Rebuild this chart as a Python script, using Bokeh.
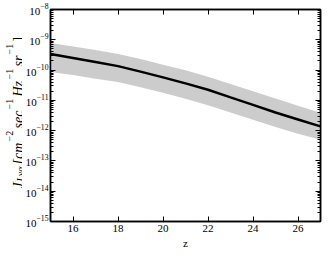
import math
from bokeh.plotting import figure
from bokeh.layouts import row
from bokeh.models import (FixedTicker, LogAxis, LinearAxis, Title,
                          CustomJSTickFormatter, ColumnDataSource)
from bokeh.core.properties import value
from bokeh.embed import file_html
from bokeh.resources import INLINE

# ---- data ----
z = [15, 16, 17, 18, 19, 20, 21, 22, 23, 24, 25, 26, 27]
j_mid = [3.39e-10, 2.51e-10, 1.86e-10, 1.35e-10, 8.9e-11, 5.75e-11, 3.63e-11,
         2.24e-11, 1.26e-11, 7.1e-12, 3.98e-12, 2.34e-12, 1.38e-12]
j_upper = [7.9e-10, 6.0e-10, 4.6e-10, 3.4e-10, 2.3e-10, 1.5e-10, 9.8e-11,
           6.0e-11, 3.5e-11, 2.0e-11, 1.15e-11, 6.6e-12, 3.9e-12]
j_lower = [8.7e-11, 6.9e-11, 5.2e-11, 4.0e-11, 2.7e-11, 1.78e-11, 1.12e-11,
           6.9e-12, 4.0e-12, 2.3e-12, 1.32e-12, 7.9e-13, 5.0e-13]

x_ticks = [16, 18, 20, 22, 24, 26]
y_ticks = [1e-15, 1e-14, 1e-13, 1e-12, 1e-11, 1e-10, 1e-9, 1e-8]
y_minor = [m * t for t in y_ticks[:-1] for m in (2, 3, 4, 5, 6, 7, 8, 9)]

# y-axis label pieces (rotated text)
lab_text = ["J", "Lyα", "[cm", "−2", "sec", "−1", "Hz", "−1", "sr", "−1", "]"]
lab_style = ["italic", "italic", "italic", "normal", "italic", "normal",
             "italic", "normal", "italic", "normal", "normal"]
lab_size = ["14px", "10px", "14px", "10px", "14px", "10px", "14px", "10px",
            "14px", "10px", "14px"]
# positions inside the label strip: baseline x, start y (pixels, from bottom)
lab_x = [17.5, 19.5, 17.5, 9, 17.5, 9, 17.5, 9, 17.5, 9, 17.5]
lab_y = [60, 67, 84, 107, 120, 139, 152, 169, 182, 194, 207]

src = ColumnDataSource(dict(z=z, mid=j_mid, up=j_upper, lo=j_lower))

FONT = "Liberation Serif"
H = 248
LW = 22

# ---- label strip ----
lab = figure(width=LW, height=H, x_range=(0, LW), y_range=(0, H),
             output_backend="svg", toolbar_location=None,
             x_axis_location=None, y_axis_location=None,
             min_border=0, outline_line_color=None)
lab.frame_align = False
lab.xgrid.visible = False
lab.ygrid.visible = False
for t, s, fs, xx, yy in zip(lab_text, lab_style, lab_size, lab_x, lab_y):
    lab.text(x=[xx], y=[yy], text=[t], angle=math.pi / 2,
             text_align="left", text_baseline="alphabetic",
             text_font=value(FONT), text_font_style=s,
             text_font_size=fs, text_color="black")

# ---- main plot ----
p = figure(width=324 - LW, height=H, x_range=(15, 27), y_range=(1e-15, 1e-8),
           y_axis_type="log", output_backend="svg", toolbar_location=None,
           min_border_left=48 - LW, min_border_right=4, min_border_top=9,
           min_border_bottom=20)
p.frame_align = False
p.background_fill_color = "white"
p.border_fill_color = "white"
p.outline_line_color = "black"
p.outline_line_width = 1.5
p.xgrid.visible = False
p.ygrid.visible = False

p.varea(x="z", y1="lo", y2="up", source=src, fill_color="#cccccc")
p.line(x="z", y="mid", source=src, line_color="black", line_width=2.5)


def style_axis(ax, labels=True):
    ax.axis_line_color = "black"
    ax.axis_line_width = 1.5
    ax.major_tick_in = 5
    ax.major_tick_out = 0
    ax.minor_tick_in = 3
    ax.minor_tick_out = 0
    ax.major_tick_line_color = "black"
    ax.minor_tick_line_color = "black"
    ax.major_tick_line_width = 1
    ax.minor_tick_line_width = 1
    ax.major_label_text_font = FONT
    ax.major_label_text_font_size = "11px"
    ax.major_label_text_color = "black"
    ax.major_label_standoff = 3
    if not labels:
        ax.formatter = CustomJSTickFormatter(code="return ''")


xb = p.xaxis[0]
xb.ticker = FixedTicker(ticks=x_ticks, minor_ticks=[])
style_axis(xb)
xb.axis_label = None

p.add_layout(Title(text="z", align="center", text_font=FONT,
                   text_font_size="11px", text_font_style="normal",
                   text_color="black", standoff=0), "below")

yl = p.yaxis[0]
yl.ticker = FixedTicker(ticks=y_ticks, minor_ticks=y_minor)
style_axis(yl)
yl.major_label_standoff = 2
yl.axis_label = None

xt = LinearAxis(ticker=FixedTicker(ticks=x_ticks, minor_ticks=[]))
style_axis(xt, labels=False)
p.add_layout(xt, "above")

yr = LogAxis(ticker=FixedTicker(ticks=y_ticks, minor_ticks=y_minor))
style_axis(yr, labels=False)
p.add_layout(yr, "right")

open("out.html", "w").write(file_html(row(lab, p, spacing=0), INLINE))
